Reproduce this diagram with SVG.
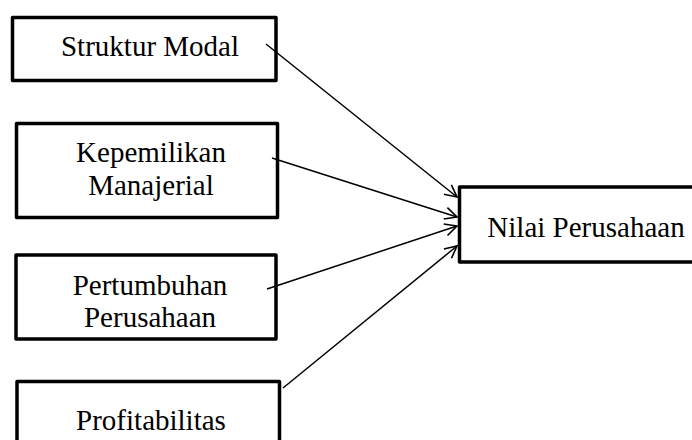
<svg xmlns="http://www.w3.org/2000/svg" width="692" height="440" viewBox="0 0 692 440">
  <style>
    .box { fill: #ffffff; stroke: #000000; stroke-width: 3.5; stroke-linejoin: round; }
    .lbl { font-family: "Liberation Serif", "Times New Roman", serif; font-size: 29px; fill: #000000; text-anchor: middle; }
    .conn { stroke: #000000; fill: none; stroke-width: 1.5; }
  </style>
  <defs>
    <marker id="arrow" viewBox="-14 -8 16 16" refX="0" refY="0" markerWidth="16" markerHeight="16" markerUnits="userSpaceOnUse" orient="auto">
      <path d="M -12 -6 L 0 0 L -12 6" fill="none" stroke="#000000" stroke-width="1.6"/>
    </marker>
  </defs>
  <rect width="692" height="440" fill="#ffffff"/>

  <g id="node-struktur-modal">
    <rect class="box" x="12.5" y="17.5" width="263.5" height="63"/>
    <text class="lbl" x="150" y="56">Struktur Modal</text>
  </g>

  <g id="node-kepemilikan-manajerial">
    <rect class="box" x="16.5" y="123.5" width="261" height="94"/>
    <text class="lbl" x="151" y="162">Kepemilikan</text>
    <text class="lbl" x="151" y="195">Manajerial</text>
  </g>

  <g id="node-pertumbuhan-perusahaan">
    <rect class="box" x="16" y="255" width="260" height="84"/>
    <text class="lbl" x="150" y="295">Pertumbuhan</text>
    <text class="lbl" x="150" y="327">Perusahaan</text>
  </g>

  <g id="node-profitabilitas">
    <rect class="box" x="17" y="381.5" width="262.5" height="80"/>
    <text class="lbl" x="151" y="430">Profitabilitas</text>
  </g>

  <g id="node-nilai-perusahaan">
    <rect class="box" x="459.5" y="187" width="245" height="75"/>
    <text class="lbl" x="586" y="237">Nilai Perusahaan</text>
  </g>

  <g id="connectors">
    <line class="conn" x1="266" y1="44" x2="457" y2="197" stroke-width="1.3" marker-end="url(#arrow)"/>
    <line class="conn" x1="272" y1="158" x2="457" y2="217" stroke-width="2" marker-end="url(#arrow)"/>
    <line class="conn" x1="267" y1="289" x2="457" y2="226" marker-end="url(#arrow)"/>
    <line class="conn" x1="283" y1="388" x2="457" y2="246" marker-end="url(#arrow)"/>
  </g>
</svg>
